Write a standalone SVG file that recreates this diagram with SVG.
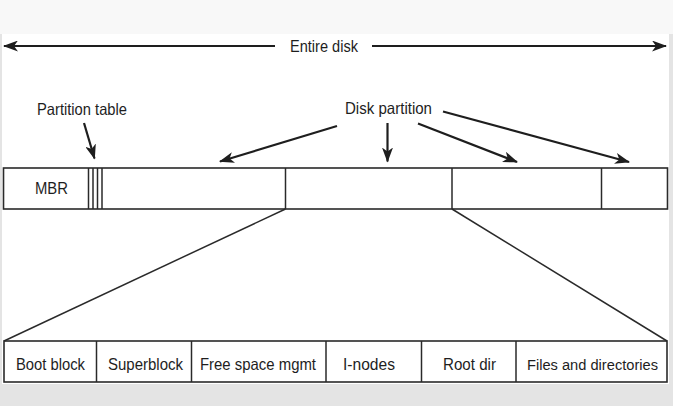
<svg xmlns="http://www.w3.org/2000/svg" width="673" height="406" viewBox="0 0 673 406">
<style>
.t{font-family:"Liberation Sans",Arial,sans-serif;font-size:16.5px;fill:#1e1e1e;}
.box{fill:#fff;stroke:#2a2a2a;stroke-width:1.6;}
.ln{stroke:#2a2a2a;stroke-width:1.5;fill:none;}
.ar{stroke:#1e1e1e;stroke-width:2.2;fill:none;marker-end:url(#ah);}
</style>
<defs>
<marker id="ah" markerUnits="userSpaceOnUse" markerWidth="15" markerHeight="11" viewBox="0 0 15 11" refX="14" refY="5.5" orient="auto-start-reverse">
<path d="M0,0 L15,5.5 L0,11 L4,5.5 Z" fill="#1e1e1e"/>
</marker>
</defs>
<rect x="0" y="0" width="673" height="406" fill="#e4e4e4"/>
<rect x="0" y="0" width="673" height="34" fill="#f8f8f8"/>
<rect x="2" y="34" width="667" height="350" fill="#fff"/>

<g id="entire-disk">
<line x1="275" y1="46" x2="4" y2="46" class="ar"/>
<line x1="372" y1="46" x2="666" y2="46" class="ar"/>
<text class="t" x="290" y="52" textLength="68" lengthAdjust="spacingAndGlyphs">Entire disk</text>
</g>

<g id="partition-table-label">
<text class="t" x="37" y="115" textLength="90" lengthAdjust="spacingAndGlyphs">Partition table</text>
</g>

<g id="disk-partition-label">
<text class="t" x="345" y="114" textLength="87" lengthAdjust="spacingAndGlyphs">Disk partition</text>
</g>

<g id="disk">
<rect class="box" x="3.5" y="168" width="664" height="41"/>
<line class="ln" x1="88.5" y1="168" x2="88.5" y2="209"/>
<line class="ln" x1="93" y1="168" x2="93" y2="209"/>
<line class="ln" x1="97.5" y1="168" x2="97.5" y2="209"/>
<line class="ln" x1="102" y1="168" x2="102" y2="209"/>
<line class="ln" x1="285.5" y1="168" x2="285.5" y2="209"/>
<line class="ln" x1="452" y1="168" x2="452" y2="209"/>
<line class="ln" x1="601.5" y1="168" x2="601.5" y2="209"/>
<text class="t" x="35" y="194" textLength="33" lengthAdjust="spacingAndGlyphs">MBR</text>
</g>

<g id="partition-layout">
<rect class="box" x="4" y="341" width="663" height="41"/>
<line class="ln" x1="96.5" y1="341" x2="96.5" y2="382"/>
<line class="ln" x1="191.5" y1="341" x2="191.5" y2="382"/>
<line class="ln" x1="326" y1="341" x2="326" y2="382"/>
<line class="ln" x1="421.5" y1="341" x2="421.5" y2="382"/>
<line class="ln" x1="516" y1="341" x2="516" y2="382"/>
<text class="t" x="16" y="370" textLength="69" lengthAdjust="spacingAndGlyphs">Boot block</text>
<text class="t" x="108" y="370" textLength="75" lengthAdjust="spacingAndGlyphs">Superblock</text>
<text class="t" x="200" y="370" textLength="116" lengthAdjust="spacingAndGlyphs">Free space mgmt</text>
<text class="t" x="343" y="370" textLength="52" lengthAdjust="spacingAndGlyphs">I-nodes</text>
<text class="t" x="443" y="370" textLength="53" lengthAdjust="spacingAndGlyphs">Root dir</text>
<text class="t" x="527" y="370" style="font-size:15.5px" textLength="131" lengthAdjust="spacingAndGlyphs">Files and directories</text>
</g>

<g id="connectors">
<line class="ar" x1="84" y1="123" x2="94.5" y2="158.5"/>
<line class="ar" x1="337" y1="126" x2="220" y2="161.5"/>
<line class="ar" x1="387.5" y1="123" x2="387.5" y2="161.5"/>
<line class="ar" x1="418" y1="123.5" x2="517" y2="162"/>
<line class="ar" x1="443" y1="111.5" x2="629" y2="162"/>
<line class="ln" x1="285.5" y1="209" x2="4" y2="341"/>
<line class="ln" x1="452" y1="209" x2="667" y2="341"/>
</g>
</svg>
